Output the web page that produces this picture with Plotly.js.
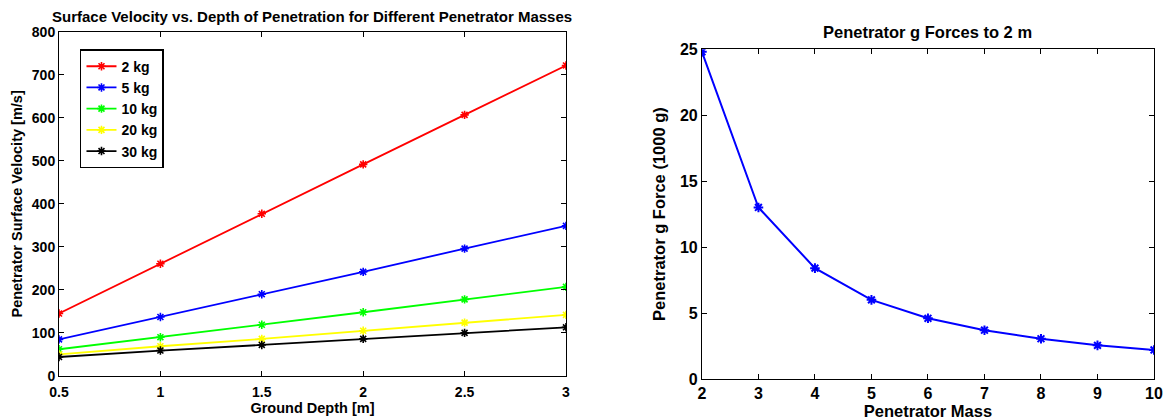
<!DOCTYPE html>
<html>
<head>
<meta charset="utf-8">
<script src="https://cdn.plot.ly/plotly-3.0.1.min.js"></script>
<style>html,body{margin:0;padding:0;background:#fff;}#chart{width:1166px;height:420px;}</style>
</head>
<body>
<div id="chart"></div>
<script>
// Left chart data
const depth = [0.5, 1, 1.5, 2, 2.5, 3];
const massLabels = ['2 kg', '5 kg', '10 kg', '20 kg', '30 kg'];
const v2kg  = [145, 261, 377, 492, 607, 722];
const v5kg  = [85, 137, 190, 242, 296, 349];
const v10kg = [62, 90, 119, 148, 178, 207];
const v20kg = [50, 69, 86, 105, 124, 142];
const v30kg = [44, 59, 72, 86, 100, 113];
// Right chart data
const mass = [2, 3, 4, 5, 6, 7, 8, 9, 10];
const gForce = [24.8, 13.0, 8.4, 6.0, 4.6, 3.7, 3.05, 2.55, 2.2];

const colors = ['#ff0000', '#0000ff', '#00ff00', '#ffff00', '#000000'];
const series = [v2kg, v5kg, v10kg, v20kg, v30kg];
const FONT = 'Liberation Sans, Arial, sans-serif';

const traces = series.map((s, i) => ({
  x: depth, y: s, name: massLabels[i], type: 'scatter', mode: 'lines+markers',
  line: {color: colors[i], width: 1.8},
  marker: {symbol: 'asterisk-open', size: 7, color: colors[i], line: {color: colors[i], width: 1.6}},
  xaxis: 'x', yaxis: 'y'
}));
traces.push({
  x: mass, y: gForce, type: 'scatter', mode: 'lines+markers', showlegend: false,
  line: {color: '#0000ff', width: 2},
  marker: {symbol: 'asterisk-open', size: 8, color: '#0000ff', line: {color: '#0000ff', width: 2}},
  xaxis: 'x2', yaxis: 'y2'
});

function ax(tickSize) {
  return {
    showgrid: false, zeroline: false, showline: true, linecolor: '#000', linewidth: 1,
    mirror: 'ticks', ticks: 'inside', ticklen: 5, tickcolor: '#000',
    tickfont: {family: FONT, size: tickSize, color: '#000', weight: 'bold'}
  };
}

const layout = {
  width: 1166, height: 420,
  margin: {l: 0, r: 0, t: 0, b: 0},
  paper_bgcolor: '#fff', plot_bgcolor: '#fff',
  font: {family: FONT, color: '#000'},
  showlegend: true,
  legend: {
    x: 0.0686, y: 0.883, xanchor: 'left', yanchor: 'top',
    bgcolor: '#fff', bordercolor: '#000', borderwidth: 1.5,
    font: {family: FONT, size: 14, color: '#000', weight: 'bold'},
    tracegroupgap: 0, itemwidth: 30
  },
  xaxis: Object.assign(ax(14), {
    domain: [0.0506, 0.4854], range: [0.5, 3],
    tickvals: [0.5, 1, 1.5, 2, 2.5, 3], ticktext: ['0.5', '1', '1.5', '2', '2.5', '3'],
    ticklabelstandoff: 3,
    title: {text: 'Ground Depth [m]', font: {family: FONT, size: 14.5, weight: 'bold'}, standoff: 2},
    anchor: 'y'
  }),
  yaxis: Object.assign(ax(14), {
    domain: [0.105, 0.924], range: [0, 800], dtick: 100,
    title: {text: 'Penetrator Surface Velocity [m/s]', font: {family: FONT, size: 14.5, weight: 'bold'}, standoff: 5},
    anchor: 'x'
  }),
  xaxis2: Object.assign(ax(16), {
    domain: [0.602, 0.9897], range: [2, 10], dtick: 1,
    title: {text: 'Penetrator Mass', font: {family: FONT, size: 16.5, weight: 'bold'}, standoff: 2},
    anchor: 'y2'
  }),
  yaxis2: Object.assign(ax(16), {
    domain: [0.0976, 0.883], range: [0, 25], dtick: 5,
    title: {text: 'Penetrator g Force (1000 g)', font: {family: FONT, size: 16.5, weight: 'bold'}, standoff: 10},
    anchor: 'x2'
  }),
  annotations: [
    {text: 'Surface Velocity vs. Depth of Penetration for Different Penetrator Masses',
     xref: 'paper', yref: 'paper', x: 0.268, y: 1 - 17/420, xanchor: 'center', yanchor: 'middle',
     showarrow: false, font: {family: FONT, size: 15, color: '#000', weight: 'bold'}},
    {text: 'Penetrator g Forces to 2 m',
     xref: 'paper', yref: 'paper', x: 0.7955, y: 1 - 32/420, xanchor: 'center', yanchor: 'middle',
     showarrow: false, font: {family: FONT, size: 16.5, color: '#000', weight: 'bold'}}
  ]
};

Plotly.newPlot('chart', traces, layout, {displayModeBar: false, staticPlot: true});
</script>
</body>
</html>
